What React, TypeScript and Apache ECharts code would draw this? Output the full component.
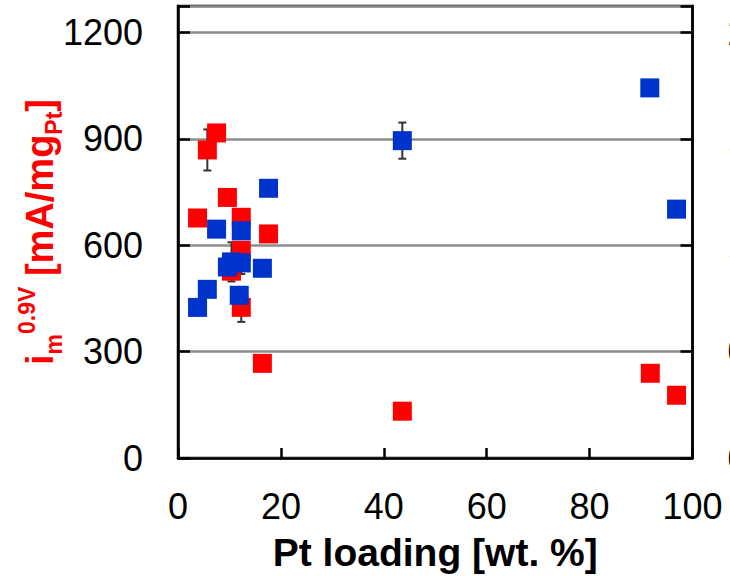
import React, { useEffect, useRef } from 'react';
import * as echarts from 'echarts';

// Tick values / labels
const xTickValues = [0, 20, 40, 60, 80, 100];
const leftTickValues = [0, 300, 600, 900, 1200];
const rightTickLabels = ['0', '0.5', '1.0', '1.5', '2.0'];

// Red series: mass activity (left axis)
const redLoading = [3.8, 5.7, 7.5, 9.6, 10.4, 12.3, 12.3, 12.3, 16.4, 17.6, 43.6, 91.8, 96.9];
const redActivity = [677, 869, 917, 735, 527, 679, 586, 425, 267, 632, 132, 239, 177];
const redError = [0, 58, 0, 0, 0, 0, 0, 41, 0, 0, 0, 0, 0];

// Blue series: right axis
const blueLoading = [3.8, 5.7, 7.5, 9.6, 10.4, 12.3, 12.3, 11.9, 16.4, 17.6, 43.6, 91.7, 96.9];
const blueValue = [0.708, 0.793, 1.076, 0.898, 0.922, 1.068, 0.917, 0.765, 0.892, 1.268, 1.492, 1.74, 1.17];
const blueError = [0, 0, 0, 0, 0.092, 0, 0.052, 0, 0, 0, 0.085, 0, 0];

const FONT = 'Arial, "Liberation Sans", sans-serif';
const RED = '#ff0000';
const BLUE = '#0033cc';

function errData(xs: number[], ys: number[], es: number[]) {
  const out: number[][] = [];
  xs.forEach((x, i) => {
    if (es[i] > 0) out.push([x, ys[i] - es[i], ys[i] + es[i]]);
  });
  return out;
}

const renderErr = (params: any, api: any) => {
  const x = api.value(0);
  const lo = api.coord([x, api.value(1)]);
  const hi = api.coord([x, api.value(2)]);
  const cap = 4;
  const st = { stroke: '#333333', lineWidth: 2 };
  return {
    type: 'group',
    children: [
      { type: 'line', shape: { x1: lo[0], y1: lo[1], x2: hi[0], y2: hi[1] }, style: st },
      { type: 'line', shape: { x1: lo[0] - cap, y1: lo[1], x2: lo[0] + cap, y2: lo[1] }, style: st },
      { type: 'line', shape: { x1: hi[0] - cap, y1: hi[1], x2: hi[0] + cap, y2: hi[1] }, style: st },
    ],
  };
};

export default function App() {
  const ref = useRef<HTMLDivElement>(null);
  useEffect(() => {
    if (!ref.current) return;
    const chart = echarts.init(ref.current, null, { renderer: 'svg' });
    const leftMax = 1275;
    const rightMax = leftMax / 600;
    chart.setOption({
      animation: false,
      backgroundColor: '#ffffff',
      grid: {
        left: 178,
        right: 37.5,
        top: 6,
        bottom: 118,
        containLabel: false,
        outerBoundsMode: 'none',
        show: true,
        borderColor: '#000',
        borderWidth: 2.5,
        backgroundColor: 'transparent',
      },
      xAxis: {
        type: 'value',
        min: 0,
        max: 100,
        interval: 20,
        name: 'Pt loading [wt. %]',
        nameLocation: 'middle',
        nameGap: 75,
        nameTextStyle: { fontFamily: FONT, fontSize: 39, fontWeight: 'bold', color: '#000' },
        axisLine: { show: true, onZero: false, lineStyle: { color: '#000', width: 2.5 } },
        axisTick: { show: true, inside: true, length: 10, lineStyle: { color: '#000', width: 2.5 } },
        axisLabel: {
          fontFamily: FONT,
          fontSize: 36,
          color: '#000',
          margin: 30,
          formatter: (v: number) => (xTickValues.includes(v) ? String(v) : ''),
        },
        splitLine: { show: false },
      },
      yAxis: [
        {
          type: 'value',
          min: 0,
          max: leftMax,
          interval: 300,
          axisLine: { show: true, onZero: false, lineStyle: { color: '#000', width: 2.5 } },
          axisTick: { show: true, inside: true, length: 12, lineStyle: { color: '#000', width: 2.5 } },
          axisLabel: {
            fontFamily: FONT,
            fontSize: 36,
            color: '#000',
            margin: 35,
            formatter: (v: number) => (leftTickValues.includes(v) ? String(v) : ''),
          },
          splitLine: { show: true, lineStyle: { color: '#8c8c8c', width: 2.5 } },
        },
        {
          type: 'value',
          position: 'right',
          min: 0,
          max: rightMax,
          interval: 0.5,
          axisLine: { show: true, onZero: false, lineStyle: { color: '#000', width: 2.5 } },
          axisTick: { show: true, inside: true, length: 12, lineStyle: { color: '#000', width: 2.5 } },
          axisLabel: {
            fontFamily: FONT,
            fontSize: 36,
            color: '#000',
            margin: 35,
            formatter: (v: number) => {
              const k = Math.round(v / 0.5);
              return Math.abs(k * 0.5 - v) < 1e-6 && k < rightTickLabels.length ? rightTickLabels[k] : '';
            },
          },
          splitLine: { show: false },
        },
      ],
      graphic: [
        {
          type: 'text',
          x: 40,
          y: 232,
          rotation: Math.PI / 2,
          style: {
            text: '{main|i}{sub|m}{sup|0.9V}{main| [mA/mg}{sub|Pt}{main|]}',
            align: 'center',
            verticalAlign: 'middle',
            fill: RED,
            rich: {
              main: { fontFamily: FONT, fontSize: 38, fontWeight: 'bold', fill: RED, lineHeight: 50, verticalAlign: 'middle' },
              sub: { fontFamily: FONT, fontSize: 23, fontWeight: 'bold', fill: RED, lineHeight: 39, verticalAlign: 'bottom' },
              sup: { fontFamily: FONT, fontSize: 23, fontWeight: 'bold', fill: RED, lineHeight: 27, verticalAlign: 'top' },
            },
          },
        },
      ],
      series: [
        {
          type: 'custom',
          z: 1,
          xAxisIndex: 0,
          yAxisIndex: 0,
          renderItem: renderErr,
          data: errData(redLoading, redActivity, redError),
        },
        {
          type: 'custom',
          z: 1,
          xAxisIndex: 0,
          yAxisIndex: 1,
          renderItem: renderErr,
          data: errData(blueLoading, blueValue, blueError),
        },
        {
          type: 'scatter',
          z: 2,
          yAxisIndex: 0,
          symbol: 'rect',
          symbolSize: 19,
          itemStyle: { color: RED, opacity: 1 },
          data: redLoading.map((x, i) => [x, redActivity[i]]),
        },
        {
          type: 'scatter',
          z: 3,
          yAxisIndex: 1,
          symbol: 'rect',
          symbolSize: 19,
          itemStyle: { color: BLUE, opacity: 1 },
          data: blueLoading.map((x, i) => [x, blueValue[i]]),
        },
      ],
    });
    return () => chart.dispose();
  }, []);
  return (
    <div
      ref={ref}
      style={{ position: 'fixed', left: 0, top: 0, width: 730, height: 576, background: '#fff' }}
    />
  );
}
